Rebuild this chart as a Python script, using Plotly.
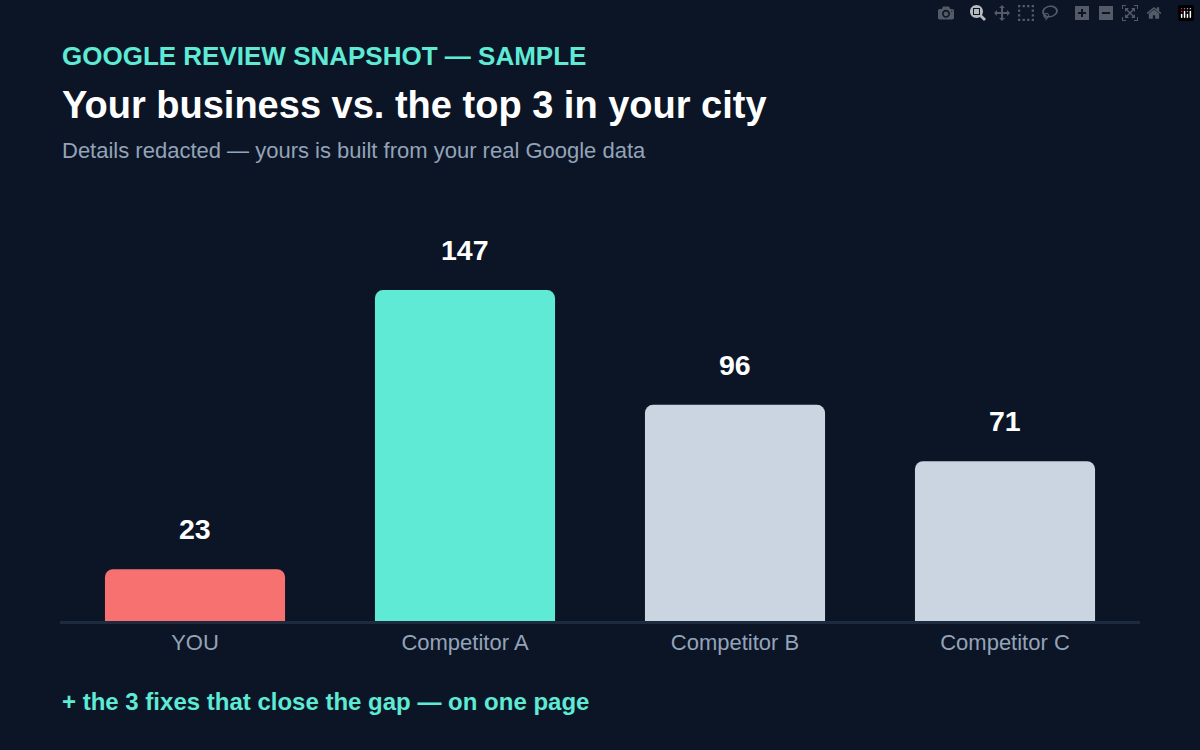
import plotly.graph_objects as go

names = ["YOU", "Competitor A", "Competitor B", "Competitor C"]
reviews = [23, 147, 96, 71]
colors = ["#f87171", "#5eead4", "#cbd5e1", "#cbd5e1"]

bg = "#0b1526"
font = "Liberation Sans, Arial, sans-serif"

fig = go.Figure(go.Bar(
    x=names, y=reviews,
    marker=dict(color=colors, line_width=0, cornerradius=8),
    hoverinfo="skip",
))

# value labels above the bars
for n, v in zip(names, reviews):
    fig.add_annotation(x=n, y=v, text="<b>%d</b>" % v, showarrow=False,
                       yshift=40, font=dict(size=28.5, color="white", family=font))

texts = [
    ("<b>GOOGLE REVIEW SNAPSHOT — SAMPLE</b>", 56, 26, "#5eead4"),
    ("<b>Your business vs. the top 3 in your city</b>", 105, 38, "#ffffff"),
    ("Details redacted — yours is built from your real Google data", 150, 22, "#94a3b8"),
    ("<b>+ the 3 fixes that close the gap — on one page</b>", 701, 24, "#5eead4"),
]
for t, ypx, size, col in texts:
    # canvas pixels -> plot-area paper fraction
    fig.add_annotation(x=0, y=(750 - ypx - 129) / 421, xref="paper", yref="paper", text=t,
                       showarrow=False, xanchor="left", yanchor="middle",
                       font=dict(size=size, color=col, family=font))

fig.update_layout(
    width=1200, height=750,
    margin=dict(l=60, r=60, t=200, b=129),
    paper_bgcolor=bg, plot_bgcolor=bg,
    bargap=0.333, showlegend=False,
    xaxis=dict(showline=True, linecolor="#1e2a3e", linewidth=3, ticks="",
               tickfont=dict(size=22, color="#94a3b8", family=font), showgrid=False),
    yaxis=dict(range=[0, 187], visible=False, showgrid=False, zeroline=False),
)

fig.write_html("out.html", post_script="document.body.style.margin='0';")
